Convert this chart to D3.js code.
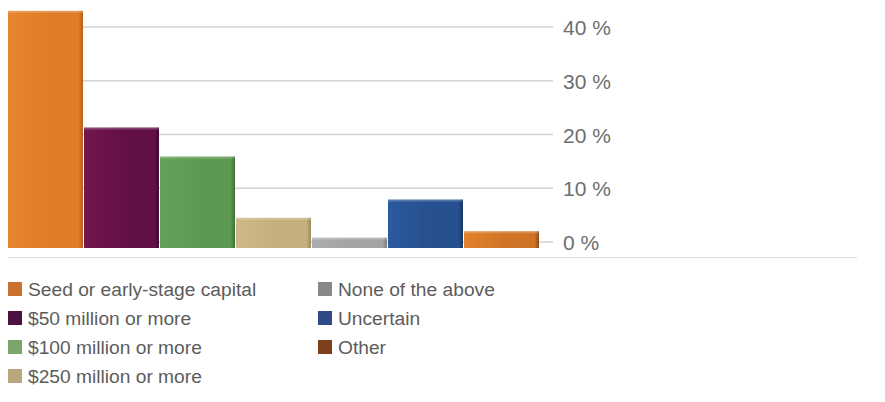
<!DOCTYPE html>
<html>
<head>
<meta charset="utf-8">
<script src="https://cdn.jsdelivr.net/npm/d3@7"></script>
<style>
  html, body { margin: 0; padding: 0; background: #fff; }
  svg { display: block; }
  text { font-family: "Liberation Sans", Arial, Helvetica, sans-serif; }
</style>
</head>
<body>
<svg id="chart" width="885" height="402"></svg>
<script>
// Share of respondents by answer (%)
const categories = [
  "Seed or early-stage capital",
  "$50 million or more",
  "$100 million or more",
  "$250 million or more",
  "None of the above",
  "Uncertain",
  "Other"
];
const values = [43, 21.3, 15.9, 4.5, 0.8, 7.9, 2.0];
const tickValues = [0, 10, 20, 30, 40];
const tickLabels = ["0 %", "10 %", "20 %", "30 %", "40 %"];

// bar face colours: [light left edge, main, dark right edge]
const barColors = [
  ["#e8852f", "#e07b27", "#b95f18"],
  ["#74154e", "#631046", "#3e0a2c"],
  ["#64a259", "#5c9a52", "#3f7038"],
  ["#cdb988", "#c4b07e", "#9c8a5f"],
  ["#adadaf", "#a3a3a5", "#7f7f81"],
  ["#2c5aa0", "#26508f", "#173461"],
  ["#e2822c", "#cf7426", "#8a4a18"]
];
// legend swatch colours
const legendColors = ["#c8702e", "#4b1440", "#7aa56b", "#b9a67e", "#88888a", "#2f4a86", "#7e3f1d"];

const svg = d3.select("#chart");
const defs = svg.append("defs");

const x = d3.scaleBand().domain(categories).range([8, 540]).padding(0);
const y = d3.scaleLinear().domain([0, 40]).range([242, 27]);
const floorY = 248; // bars sit on a slightly lower floor

// gridlines + tick marks
const axis = d3.axisRight(y)
  .tickValues(tickValues)
  .tickSize(0)
  .tickFormat((d, i) => tickLabels[i]);

const gridG = svg.append("g");
gridG.selectAll("line")
  .data(tickValues)
  .join("line")
  .attr("x1", 10)
  .attr("x2", 553)
  .attr("y1", d => y(d))
  .attr("y2", d => y(d))
  .attr("stroke", "#d2d2d2")
  .attr("stroke-width", 1.5);

const axisG = svg.append("g")
  .attr("transform", "translate(563,0)")
  .call(axis);
axisG.select(".domain").remove();
axisG.selectAll("text")
  .attr("x", 0)
  .attr("dy", "0.36em")
  .attr("fill", "#6e6e6e")
  .style("font-size", "21px");

// gradients for the bars
barColors.forEach((c, i) => {
  const g = defs.append("linearGradient")
    .attr("id", "bar" + i)
    .attr("x1", "0").attr("x2", "1").attr("y1", "0").attr("y2", "0");
  g.append("stop").attr("offset", "0%").attr("stop-color", c[0]);
  g.append("stop").attr("offset", "55%").attr("stop-color", c[1]);
  g.append("stop").attr("offset", "94%").attr("stop-color", c[1]);
  g.append("stop").attr("offset", "100%").attr("stop-color", c[2]);
});

const bars = svg.append("g").selectAll("g")
  .data(categories.map((c, i) => ({ c, v: values[i], i })))
  .join("g");

bars.append("rect")
  .attr("x", d => x(d.c))
  .attr("y", d => y(d.v))
  .attr("width", x.bandwidth() - 1)
  .attr("height", d => floorY - y(d.v))
  .attr("fill", d => `url(#bar${d.i})`);

// subtle top highlight
bars.append("rect")
  .attr("x", d => x(d.c))
  .attr("y", d => y(d.v))
  .attr("width", x.bandwidth() - 1)
  .attr("height", 2)
  .attr("fill", "#fff")
  .attr("opacity", 0.2);

// separator under the plot
svg.append("line")
  .attr("x1", 8).attr("x2", 857)
  .attr("y1", 257.5).attr("y2", 257.5)
  .attr("stroke", "#dcdcdc")
  .attr("stroke-width", 1.2);

// legend in two columns
const legendCols = [8, 318];
const legendRows = [289, 318, 347, 376];
const perCol = 4;
const legend = svg.append("g").selectAll("g")
  .data(categories)
  .join("g")
  .attr("transform", (d, i) =>
    `translate(${legendCols[Math.floor(i / perCol)]},${legendRows[i % perCol]})`);

legend.append("rect")
  .attr("x", 0).attr("y", -7)
  .attr("width", 14).attr("height", 14)
  .attr("fill", (d, i) => legendColors[i]);

legend.append("text")
  .attr("x", 20)
  .attr("dy", "0.36em")
  .attr("fill", "#5c5c5c")
  .style("font-size", "19.2px")
  .text(d => d);
</script>
</body>
</html>
